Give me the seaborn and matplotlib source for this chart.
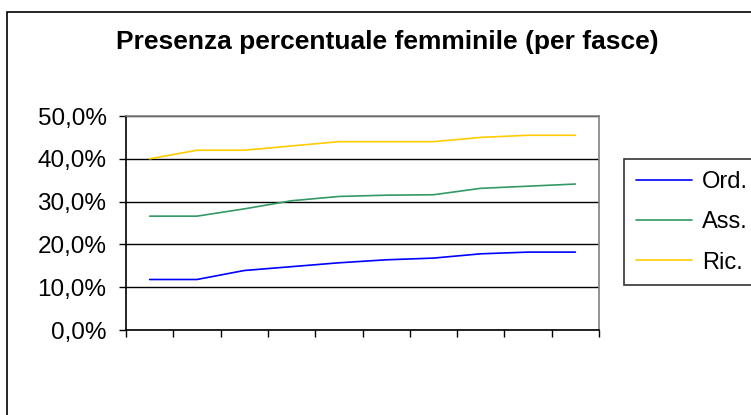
import matplotlib
matplotlib.use("Agg")
import matplotlib.pyplot as plt
import matplotlib.ticker as mticker
import seaborn as sns
import pandas as pd

# Data (percent)
fasce = list(range(1, 11))
ordinari = [11.8, 11.8, 13.9, 14.8, 15.7, 16.4, 16.8, 17.8, 18.2, 18.2]
associati = [26.6, 26.6, 28.3, 30.2, 31.2, 31.5, 31.6, 33.1, 33.6, 34.1]
ricercatori = [40.0, 42.0, 42.0, 43.0, 44.0, 44.0, 44.0, 45.0, 45.5, 45.5]
serie = ["Ord.", "Ass.", "Ric."]
colori = ["#0000FF", "#339966", "#FFCC00"]

sns.set_style("white")
plt.rcParams["font.family"] = ["Liberation Sans", "DejaVu Sans"]
plt.rcParams["text.color"] = "black"
plt.rcParams["xtick.color"] = "black"
plt.rcParams["ytick.color"] = "black"

df = pd.DataFrame({
    "fascia": fasce * 3,
    "valore": ordinari + associati + ricercatori,
    "serie": [s for s in serie for _ in fasce],
})

fig = plt.figure(figsize=(7.51, 4.15), dpi=100)
ax = fig.add_axes([126 / 751, 1 - 330 / 415, (599 - 126) / 751, (330 - 116) / 415])

sns.lineplot(data=df, x="fascia", y="valore", hue="serie", hue_order=serie,
             palette=colori, linewidth=1.2, ax=ax, legend=True)

ax.set_xlim(0.5, 10.5)
ax.set_ylim(0, 50)
ax.set_xticks([i + 0.5 for i in range(0, 11)])
ax.set_xticklabels([])
ax.set_yticks(range(0, 51, 10))
ax.yaxis.set_major_formatter(mticker.FuncFormatter(lambda v, p: f"{v:.1f}%".replace(".", ",")))
ax.tick_params(axis="both", direction="out", length=5, width=1, color="black",
               labelcolor="black", left=True, bottom=True, labelsize=17.5)
ax.tick_params(axis="y", pad=9)
ax.set_xlabel("")
ax.set_ylabel("")
ax.grid(axis="y", color="black", linewidth=1)
ax.set_axisbelow(True)
for side in ["left", "bottom"]:
    ax.spines[side].set_color("black")
    ax.spines[side].set_linewidth(1.2)
for side in ["top", "right"]:
    ax.spines[side].set_color("#808080")
    ax.spines[side].set_linewidth(1.2)

fig.text(387 / 751, 1 - 42 / 415, "Presenza percentuale femminile (per fasce)",
         ha="center", va="center", fontsize=19, fontweight="bold", color="black")

leg = ax.legend(loc="upper left", bbox_to_anchor=(624 / 751, 1 - 159 / 415),
                bbox_transform=fig.transFigure, fontsize=17, frameon=True,
                fancybox=False, edgecolor="black", handlelength=2.4,
                handletextpad=0.4, labelspacing=0.78, borderpad=0.5,
                borderaxespad=0)
leg.get_frame().set_linewidth(1.2)
for t in leg.get_texts():
    t.set_color("black")

# outer chart-area border
fig.patches.append(plt.Rectangle((7 / 751, -0.05), 1.2, 1 - 12 / 415 + 0.05,
                                 transform=fig.transFigure, fill=False,
                                 edgecolor="black", linewidth=1.2))

fig.savefig("out.png", dpi=100)
